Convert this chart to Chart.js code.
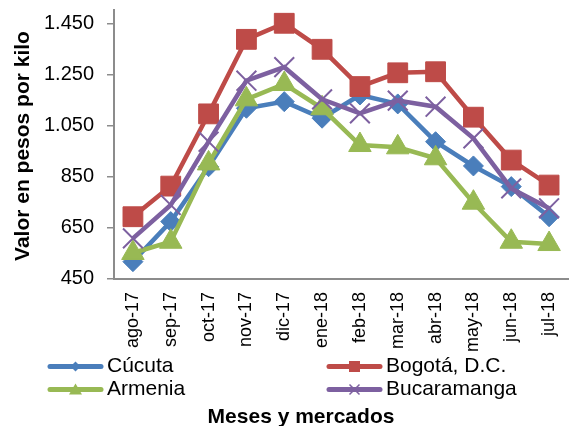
<!DOCTYPE html>
<html>
<head>
<meta charset="utf-8">
<script src="https://cdn.jsdelivr.net/npm/chart.js"></script>
<style>
	body { margin: 0; background: #fff; }
	#contenedor { width: 569px; height: 426px; }
</style>
</head>
<body>
<div id="contenedor"><canvas id="grafico_precios"></canvas></div>
<script>

// datos del grafico

var meses = ['ago-17', 'sep-17', 'oct-17', 'nov-17', 'dic-17', 'ene-18', 'feb-18', 'mar-18', 'abr-18', 'may-18', 'jun-18', 'jul-18'];

var cucuta      = [516, 673, 888, 1117, 1143, 1078, 1169, 1134, 986, 891, 810, 692];
var bogota      = [692, 812, 1095, 1387, 1450, 1348, 1202, 1256, 1260, 1082, 914, 816];
var armenia     = [550, 594, 901, 1152, 1212, 1117, 973, 964, 921, 747, 594, 585];
var bucaramanga = [607, 738, 986, 1225, 1278, 1152, 1097, 1147, 1123, 999, 803, 725];

var ticksY = [450, 650, 850, 1050, 1250, 1450];

var tituloY = 'Valor en pesos por kilo';
var tituloX = 'Meses y mercados';

var fuente = "'Liberation Sans', Arial, sans-serif";
var gris = '#8c8c8c';

Chart.defaults.font.family = fuente;
Chart.defaults.color = '#000';

function serie(nombre, valores, color, estilo, radio, orden)
{
	return {
		label: nombre,
		data: valores,
		borderColor: color,
		backgroundColor: color,
		borderWidth: 4.5,
		tension: 0,
		pointStyle: estilo,
		pointRadius: radio,
		pointHoverRadius: radio,
		pointBackgroundColor: color,
		pointBorderColor: color,
		pointBorderWidth: estilo == 'crossRot' ? 2 : 1,
		order: orden
	};
}

var datos = {
	labels: meses,
	datasets: [
		serie('Cúcuta', cucuta, '#4a7ebb', 'rectRot', 10, 4),
		serie('Bogotá, D.C.', bogota, '#be4b48', 'rect', 14, 3),
		serie('Armenia', armenia, '#98b954', 'triangle', 13, 2),
		serie('Bucaramanga', bucaramanga, '#7d60a0', 'crossRot', 14, 1)
	]
};

function formatear(v)
{
	return String(v).replace(/\B(?=(\d{3})+(?!\d))/g, '.');
}

// marcador chico de la leyenda
function marcador(ctx, estilo, x, y)
{
	ctx.beginPath();
	if (estilo == 'rectRot') {
		ctx.moveTo(x - 5, y); ctx.lineTo(x, y - 5); ctx.lineTo(x + 5, y); ctx.lineTo(x, y + 5);
		ctx.closePath(); ctx.fill();
	} else if (estilo == 'rect') {
		ctx.rect(x - 5.5, y - 5.5, 11, 11); ctx.fill();
	} else if (estilo == 'triangle') {
		ctx.moveTo(x, y - 6); ctx.lineTo(x + 6.5, y + 5); ctx.lineTo(x - 6.5, y + 5);
		ctx.closePath(); ctx.fill();
	} else {
		ctx.lineWidth = 1.5;
		ctx.moveTo(x - 5, y - 5); ctx.lineTo(x + 5, y + 5);
		ctx.moveTo(x + 5, y - 5); ctx.lineTo(x - 5, y + 5);
		ctx.stroke();
	}
}

var leyendaExcel = {
	id: 'leyendaExcel',
	afterDraw: function(chart)
	{
		var ctx = chart.ctx;
		var columnas = [48, 327];
		var filas = [366.5, 389.5];

		ctx.save();
		chart.data.datasets.forEach(function(ds, i){
			var x = columnas[i % 2];
			var y = filas[Math.floor(i / 2)];
			ctx.strokeStyle = ds.borderColor;
			ctx.fillStyle = ds.borderColor;
			ctx.lineWidth = 5;
			ctx.lineCap = 'round';
			ctx.beginPath();
			ctx.moveTo(x + 2, y);
			ctx.lineTo(x + 53, y);
			ctx.stroke();
			ctx.lineCap = 'butt';
			marcador(ctx, ds.pointStyle, x + 27.5, y);

			ctx.fillStyle = '#000';
			ctx.font = '21px ' + fuente;
			ctx.textAlign = 'left';
			ctx.textBaseline = 'middle';
			ctx.fillText(ds.label, x + 59, y);
		});

		// titulos de ejes
		ctx.fillStyle = '#000';
		ctx.font = 'bold 21px ' + fuente;
		ctx.textAlign = 'center';
		ctx.textBaseline = 'alphabetic';
		ctx.fillText(tituloX, 301, 423);

		ctx.translate(23, 146);
		ctx.rotate(-Math.PI / 2);
		ctx.textBaseline = 'middle';
		ctx.fillText(tituloY, 0, 0);
		ctx.restore();
	}
};

var canvas_precios = document.getElementById('grafico_precios').getContext('2d');

window.grafico = new Chart(canvas_precios, {
	type: 'line',
	data: datos,
	plugins: [leyendaExcel],
	options: {
		responsive: true,
		maintainAspectRatio: false,
		animation: false,
		layout: { autoPadding: false, padding: { top: 10, right: 1, left: 0, bottom: 0 } },
		plugins: {
			legend: { display: false },
			tooltip: { enabled: false }
		},
		scales: {
			x: {
				offset: true,
				grid: { display: false },
				border: { color: gris, width: 2 },
				ticks: {
					autoSkip: false,
					minRotation: 90,
					maxRotation: 90,
					padding: 5.5,
					font: { size: 18, family: fuente }
				},
				afterFit: function(scale){
					scale.height = 147.5;
					scale.paddingLeft = 0;
					scale.paddingRight = 0;
				}
			},
			y: {
				min: 450,
				max: 1502,
				grid: { drawOnChartArea: false, drawTicks: true, tickLength: 7, color: gris, lineWidth: 1.5 },
				border: { color: gris, width: 2 },
				ticks: {
					padding: 13,
					font: { size: 20, family: fuente },
					callback: function(v){ return formatear(v); }
				},
				afterBuildTicks: function(scale){
					scale.ticks = ticksY.map(function(v){ return { value: v }; });
				},
				afterFit: function(scale){
					scale.width = 114;
					scale.paddingTop = 0;
					scale.paddingBottom = 0;
				}
			}
		}
	}
});

</script>
</body>
</html>
